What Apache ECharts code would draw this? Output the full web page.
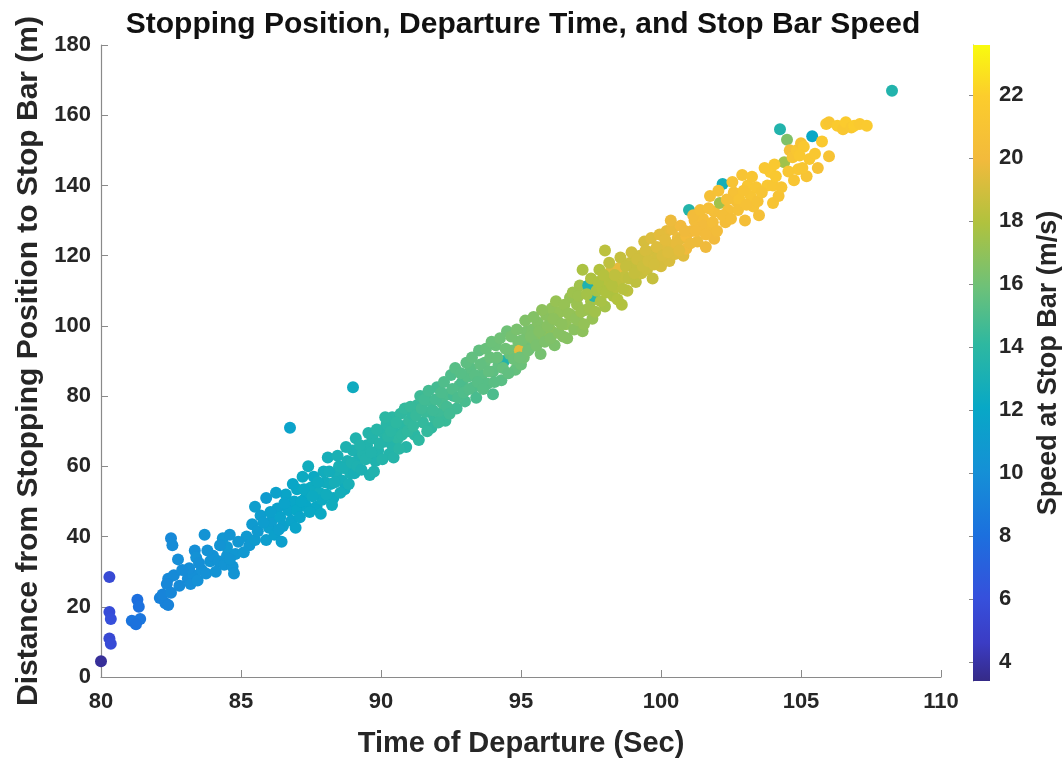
<!DOCTYPE html>
<html>
<head>
<meta charset="utf-8">
<title>Stopping Position, Departure Time, and Stop Bar Speed</title>
<script src="https://cdn.jsdelivr.net/npm/echarts@6/dist/echarts.min.js"></script>
<style>
  html, body { margin: 0; padding: 0; background: #ffffff; }
  #chart { width: 1063px; height: 763px; }
</style>
</head>
<body>
<div id="chart"></div>
<script>
// Departure time (s), distance from stopping position to stop bar (m), speed at stop bar (m/s)
const departTime = [
  80.0, 80.3, 80.3, 80.35, 80.3, 80.35,
  81.3, 81.35, 81.1, 81.4, 81.25,
  82.1, 82.3, 82.2, 82.4, 82.5, 82.55, 82.4, 82.6, 82.75, 82.35,
  83.1, 83.3, 83.2, 83.45, 83.35, 83.4, 83.7, 83.6, 83.9,
  84.0, 84.2, 84.4, 84.5, 84.35, 84.6, 84.7, 84.8, 84.5,
  85.2, 85.4, 85.3, 85.5, 85.7, 85.9, 85.9, 86.0, 86.1, 86.3, 86.2, 86.4, 86.5, 86.6, 86.7, 86.75, 86.8, 86.9,
  87.0, 87.0, 87.1, 87.2, 87.3, 87.35, 87.5, 87.6, 87.7, 87.8, 87.9,
  88.0, 88.1, 88.2, 88.3, 88.4, 88.5, 88.6, 88.7, 88.8, 88.9,
  89.0, 89.0, 89.05, 89.1, 89.2, 89.35, 89.6, 89.5, 89.7, 89.8, 89.9,
  90.0, 90.1, 90.2, 90.3, 90.4, 90.4, 90.5, 90.6, 90.7, 90.8, 90.9,
  91.0, 91.1, 91.2, 91.3, 91.4, 91.5, 91.6, 91.75, 91.8, 91.9,
  92.0, 92.1, 92.2, 92.3, 92.4, 92.5, 92.6, 92.7, 92.8, 92.9, 93.0,
  93.1, 93.2, 93.3, 93.4, 93.5, 93.6, 93.7, 93.8, 93.9,
  94.0, 94.0, 94.1, 94.2, 94.3, 94.4, 94.5, 94.6, 94.7, 94.8, 94.9, 94.96, 95.0,
  95.1, 95.2, 95.2, 95.3, 95.4, 95.5, 95.6, 95.7, 95.8, 95.9,
  96.0, 96.1, 96.1, 96.2, 96.3, 96.4, 96.5, 96.6, 96.75, 96.8, 96.9, 97.0, 97.05,
  97.1, 97.2, 97.2, 97.3, 97.4, 97.5, 97.55, 97.6, 97.7, 97.8, 97.9,
  98.0, 98.0, 98.1, 98.2, 98.3, 98.4, 98.5, 98.5, 98.6, 98.7, 98.8, 98.9, 99.0, 99.1,
  99.25, 99.3, 99.4, 99.5, 99.6, 99.7, 99.8, 99.9,
  100.0, 100.1, 100.2, 100.3, 100.4, 100.4, 100.5, 100.6, 100.7, 100.7, 100.8, 100.9, 100.9, 101.0,
  101.1, 101.2, 101.3, 101.5, 101.5, 101.6, 101.75, 101.75, 101.9, 101.9,
  102.1, 102.2, 102.3, 102.4, 102.6, 102.7, 102.8, 102.9,
  103.0, 103.1, 103.2, 103.3, 103.4, 103.5, 103.8, 103.9,
  104.0, 104.0, 104.1, 104.2, 104.25, 104.4, 104.5, 104.6, 104.7, 104.85, 104.9,
  105.0, 105.1, 105.2, 105.3, 105.4, 105.6, 106.0, 105.9, 106.0, 106.3, 106.5, 106.6, 106.8, 106.9,
  107.1, 107.35, 108.25,
  83.15, 83.5, 83.75, 83.8, 84.1, 84.25, 84.6, 84.9, 84.75, 82.9, 82.5, 82.8,
  85.1, 85.6, 85.8, 85.5, 86.05, 86.35, 86.55, 86.25, 86.45,
  86.85, 86.95, 87.15, 87.25, 87.45, 87.55, 87.75, 87.85, 87.95, 87.4,
  88.05, 88.15, 88.25, 88.35, 88.45, 88.55, 88.65, 88.75, 88.85, 88.95,
  89.15, 89.25, 89.3, 89.45, 89.55, 89.65, 89.75, 89.85, 89.95,
  90.05, 90.15, 90.25, 90.35, 90.45, 90.55, 90.65, 90.75, 90.85, 90.95,
  91.05, 91.15, 91.25, 91.35, 91.45, 91.55, 91.65, 91.7, 91.85, 91.95,
  92.05, 92.15, 92.25, 92.35, 92.45, 92.55, 92.65, 92.75, 92.85, 92.95,
  93.05, 93.15, 93.25, 93.35, 93.45, 93.55, 93.65, 93.75, 93.85, 93.95,
  94.05, 94.15, 94.25, 94.35, 94.45, 94.55, 94.65, 94.75, 94.85, 94.95,
  95.05, 95.15, 95.25, 95.35, 95.45, 95.55, 95.65, 95.75, 95.85, 95.95,
  96.05, 96.15, 96.25, 96.35, 96.45, 96.55, 96.65, 96.7, 96.85, 96.95,
  97.05, 97.15, 97.25, 97.35, 97.45, 97.5, 97.65, 97.75, 97.85, 97.95,
  98.05, 98.15, 98.25, 98.35, 98.45, 98.55, 98.65, 98.75, 98.85, 98.95,
  99.05, 99.15, 99.35, 99.45, 99.55, 99.65, 99.75, 99.85, 99.95, 100.05,
  100.15, 100.25, 100.35, 100.55, 100.65, 100.85, 101.05, 101.15, 101.25, 101.4,
  101.6, 101.7, 101.85, 102.0, 102.05, 102.2, 102.35, 102.5, 102.55, 102.75,
  102.95, 103.05, 103.25, 103.45, 103.6, 103.7, 104.05, 104.3, 104.55, 104.75,
  104.95, 105.05, 105.5, 105.75
];
const stopDistance = [
  4.5, 28.5, 18.5, 16.5, 11.0, 9.5,
  22.0, 20.0, 16.0, 16.5, 15.0,
  22.5, 21.0, 23.5, 20.5, 39.5, 37.5, 28.0, 29.0, 33.5, 26.5,
  28.0, 29.0, 26.5, 27.5, 36.0, 34.0, 40.5, 30.5, 33.0,
  34.5, 33.0, 32.0, 34.5, 39.5, 40.5, 31.5, 35.0, 37.0,
  40.0, 43.5, 37.5, 39.0, 46.0, 51.0, 39.0, 42.5, 44.5, 48.0, 40.5, 45.5, 43.0, 52.0, 47.5, 71.0, 44.5, 50.0,
  47.5, 53.5, 45.5, 57.0, 51.0, 48.5, 54.0, 57.0, 48.5, 52.5, 50.5,
  55.5, 62.5, 55.0, 51.0, 58.0, 60.0, 56.0, 53.5, 61.5, 58.0,
  82.5, 64.5, 58.0, 68.0, 62.0, 63.5, 57.5, 66.0, 68.0, 61.5, 64.5,
  70.0, 67.0, 72.0, 63.5, 74.0, 66.0, 69.5, 68.0, 75.0, 71.5, 65.5,
  73.0, 75.0, 69.0, 77.5, 80.0, 72.5, 75.5, 78.5, 71.0, 74.0,
  82.5, 75.0, 78.0, 73.0, 80.5, 86.0, 80.0, 76.5, 83.0, 84.0, 78.5,
  85.5, 88.0, 82.5, 79.5, 93.0, 86.0, 89.5, 83.5, 91.0,
  80.5, 87.0, 94.5, 89.0, 84.5, 90.0, 98.5, 92.0, 93.0, 87.5, 95.5, 93.0, 89.0,
  91.0, 98.5, 95.5, 93.5, 99.0, 96.0, 101.0, 92.0, 97.5, 103.0,
  99.5, 98.5, 105.0, 94.5, 101.5, 104.0, 97.0, 100.5, 108.0, 103.0, 99.0, 106.0, 101.5,
  111.5, 98.5, 116.0, 104.5, 111.5, 107.0, 102.0, 108.5, 110.0, 116.0, 110.7,
  121.5, 105.5, 113.0, 115.5, 108.5, 111.0, 112.5, 116.5, 106.0, 114.0, 110.0, 118.0, 117.0, 112.5,
  120.0, 115.0, 124.0, 116.0, 121.0, 113.5, 119.0, 120.0,
  117.0, 122.5, 127.0, 118.5, 123.0, 127.5, 120.5, 125.0, 128.5, 124.8, 120.0, 122.0, 125.5, 133.0,
  127.0, 130.0, 124.0, 130.5, 128.5, 122.5, 137.0, 126.8, 132.5, 124.8,
  135.0, 140.4, 129.5, 133.0, 138.0, 135.5, 136.0, 143.0,
  130.0, 140.0, 137.0, 134.0, 139.5, 131.5, 140.0, 143.8,
  135.0, 140.0, 142.6, 137.0, 156.0, 146.6, 153.0, 150.0, 148.0, 150.0, 144.6,
  152.0, 151.0, 142.6, 147.5, 154.0, 145.0, 148.3, 157.5, 158.0, 157.0, 156.0, 158.0, 156.5, 157.0,
  157.5, 157.0, 167.0,
  31.0, 32.5, 29.5, 36.0, 30.0, 37.5, 33.5, 38.5, 29.5, 30.5, 24.0, 26.0,
  35.5, 41.5, 44.0, 48.5, 47.0, 42.0, 49.5, 52.5, 38.5,
  55.0, 42.5, 50.0, 53.5, 47.0, 51.5, 55.5, 46.5, 58.5, 60.0,
  52.0, 58.5, 49.0, 55.5, 63.0, 52.5, 59.5, 65.5, 55.0, 61.0,
  60.0, 66.0, 59.0, 62.0, 69.5, 64.0, 58.5, 70.5, 66.5,
  62.0, 74.0, 68.5, 70.0, 62.5, 72.5, 65.0, 69.0, 76.5, 70.0,
  77.0, 71.5, 74.5, 67.5, 76.5, 79.0, 70.0, 81.5, 76.0, 79.0,
  72.5, 81.0, 84.0, 77.0, 75.0, 82.0, 88.0, 79.5, 86.5, 81.0,
  89.5, 82.0, 91.0, 86.0, 84.0, 89.0, 82.0, 93.5, 87.0, 95.5,
  84.0, 91.0, 96.5, 88.0, 93.5, 86.5, 97.0, 90.5, 99.0, 91.0,
  96.0, 101.5, 93.0, 97.0, 102.5, 94.5, 98.5, 104.5, 95.5, 100.0,
  96.5, 102.0, 107.0, 98.0, 100.5, 106.0, 96.5, 103.5, 109.5, 102.0,
  108.5, 104.0, 100.5, 109.0, 105.0, 113.5, 104.0, 112.5, 107.0, 114.5,
  109.5, 118.0, 111.5, 114.5, 107.5, 119.5, 110.5, 117.0, 113.5, 121.0,
  115.0, 119.0, 117.0, 121.5, 118.5, 125.0, 117.5, 122.5, 126.0, 120.0,
  124.5, 121.0, 130.0, 123.5, 121.5, 127.0, 123.5, 131.5, 127.0, 133.0,
  126.0, 133.5, 129.5, 127.0, 138.5, 131.5, 136.0, 130.5, 141.0, 133.0,
  138.5, 134.5, 142.5, 135.5, 138.0, 145.0, 146.0, 139.5, 144.0, 141.5,
  148.5, 145.0, 149.0, 152.5
];
const barSpeed = [
  3.8, 5.6, 5.8, 6.0, 5.5, 5.7,
  8.0, 8.1, 8.3, 8.4, 8.2,
  9.1, 9.2, 9.3, 9.2, 9.6, 9.8, 9.6, 9.7, 9.9, 9.5,
  9.8, 10.0, 9.9, 10.1, 10.0, 10.2, 10.3, 10.1, 10.3,
  10.2, 10.3, 10.4, 10.5, 10.6, 10.5, 10.4, 10.6, 10.7,
  10.8, 10.9, 10.7, 11.0, 11.1, 11.0, 11.2, 11.3, 11.2, 11.5, 11.4, 11.6, 11.4, 11.8, 11.7, 11.6, 11.6, 11.9,
  12.0, 12.1, 11.8, 12.3, 12.1, 12.0, 12.4, 12.2, 12.1, 12.5, 12.3,
  12.6, 12.8, 12.5, 12.4, 12.9, 13.0, 12.8, 12.6, 13.1, 13.0,
  12.4, 13.2, 12.9, 13.3, 13.1, 13.4, 13.2, 13.5, 13.6, 13.3, 13.5,
  13.8, 13.7, 13.9, 13.6, 14.0, 13.7, 13.9, 14.1, 14.2, 14.0, 13.8,
  14.3, 14.2, 14.0, 14.4, 14.6, 14.3, 14.5, 14.7, 14.2, 14.4,
  14.8, 14.6, 14.9, 14.5, 15.0, 15.1, 14.8, 14.7, 15.2, 15.0, 14.9,
  15.3, 15.4, 15.1, 14.9, 15.6, 15.4, 15.7, 15.3, 15.8,
  15.0, 15.5, 15.9, 15.6, 15.4, 13.5, 16.0, 15.8, 16.1, 15.7, 16.2, 19.5, 15.9,
  16.1, 16.3, 16.2, 16.0, 16.4, 16.5, 16.6, 16.2, 16.7, 16.8,
  16.6, 16.9, 17.0, 16.4, 16.8, 17.1, 16.7, 17.0, 17.2, 17.1, 16.8, 17.3, 17.0,
  17.5, 16.9, 17.8, 17.4, 13.2, 17.6, 17.2, 13.8, 17.7, 18.0, 17.9,
  18.3, 17.6, 18.1, 19.2, 17.9, 18.2, 18.4, 19.6, 18.0, 18.5, 18.3, 18.7, 18.6, 18.4,
  18.9, 18.7, 19.1, 18.8, 19.0, 18.6, 19.2, 19.0,
  19.1, 19.4, 19.6, 19.2, 19.5, 19.7, 19.3, 19.8, 20.0, 19.6, 19.4, 19.9, 20.1, 13.6,
  20.0, 20.2, 19.8, 20.3, 20.1, 19.9, 20.6, 20.2, 20.4, 20.0,
  17.5, 12.8, 20.3, 20.5, 20.7, 20.6, 20.9, 21.0,
  20.4, 21.2, 21.0, 20.8, 21.1, 20.6, 21.3, 21.5,
  21.0, 21.2, 21.4, 20.9, 13.4, 17.5, 16.5, 20.5, 21.0, 21.2, 21.3,
  20.8, 21.4, 21.0, 21.3, 12.0, 20.7, 20.9, 21.5, 21.2, 21.6, 21.3, 21.7, 21.4, 21.8,
  21.5, 21.6, 13.4,
  9.9, 10.0, 10.1, 10.2, 10.3, 10.4, 10.5, 10.6, 10.4, 9.8, 9.5, 9.7,
  10.7, 10.9, 11.1, 11.2, 11.4, 11.3, 11.6, 11.5, 11.3,
  11.9, 11.7, 12.0, 12.2, 12.1, 12.3, 12.4, 12.2, 12.6, 12.5,
  12.5, 12.7, 12.5, 12.8, 13.0, 12.7, 13.0, 13.2, 12.9, 13.2,
  13.2, 13.4, 13.1, 13.4, 13.6, 13.5, 13.3, 13.8, 13.7,
  13.6, 14.0, 13.9, 14.0, 13.7, 14.1, 13.9, 14.1, 14.3, 14.2,
  14.4, 14.3, 14.4, 14.1, 14.6, 14.7, 14.3, 14.8, 14.6, 14.8,
  14.5, 15.0, 15.1, 14.8, 14.7, 15.1, 15.3, 15.0, 15.3, 15.1,
  15.5, 15.2, 15.6, 15.4, 15.3, 15.6, 15.3, 15.8, 15.6, 15.9,
  15.4, 15.8, 16.0, 15.7, 16.0, 15.6, 16.2, 15.9, 16.3, 16.0,
  16.2, 16.5, 16.1, 16.4, 16.6, 16.3, 16.6, 16.9, 16.4, 16.7,
  16.5, 16.9, 17.2, 16.7, 16.9, 17.2, 16.7, 17.1, 17.4, 17.0,
  17.4, 17.3, 17.1, 17.6, 17.4, 17.9, 17.5, 17.9, 17.7, 18.1,
  17.9, 18.4, 18.1, 18.4, 18.0, 18.6, 18.2, 18.6, 18.4, 18.9,
  18.6, 18.9, 18.8, 19.1, 19.0, 19.3, 19.0, 19.3, 19.5, 19.2,
  19.5, 19.3, 19.8, 19.6, 19.5, 19.9, 19.8, 20.2, 20.1, 20.4,
  20.1, 20.5, 20.3, 20.2, 20.7, 20.4, 20.6, 20.4, 20.9, 20.6,
  20.9, 20.7, 21.1, 20.8, 21.0, 21.3, 21.4, 21.1, 21.2, 21.1,
  21.4, 21.2, 21.3, 21.5
];

// Axis ranges and tick values
const timeTicks = [80, 85, 90, 95, 100, 105, 110];
const distanceTicks = [0, 20, 40, 60, 80, 100, 120, 140, 160, 180];
const speedRange = [3.4, 23.6];
const speedTicks = [4, 6, 8, 10, 12, 14, 16, 18, 20, 22];

// Parula-style colour map: stop offsets and colours
const cmapOffsets = [0.00, 0.06, 0.13, 0.23, 0.33, 0.43, 0.53, 0.62, 0.72, 0.82, 0.92, 1.00];
const cmapColors = ['#352a87', '#3b3cc4', '#3650dc', '#1c70de', '#1590d6', '#08a8c6',
                    '#2eb8a0', '#6ec178', '#b0c23e', '#f2ba3c', '#fccd2c', '#f9fb0e'];

const points = departTime.map((t, i) => [t, stopDistance[i], barSpeed[i]]);

// Piecewise visual map so the scatter colours follow the same uneven stops as the colour bar
const span = speedRange[1] - speedRange[0];
const pieces = [];
const STEPS = 200;
function cmapAt(f) {
  let k = 0;
  while (k < cmapOffsets.length - 2 && f > cmapOffsets[k + 1]) k++;
  const a = cmapOffsets[k], b = cmapOffsets[k + 1];
  const u = Math.min(1, Math.max(0, (f - a) / (b - a)));
  const c0 = echarts.color.parse(cmapColors[k]);
  const c1 = echarts.color.parse(cmapColors[k + 1]);
  const mix = c0.slice(0, 3).map((v, j) => Math.round(v + (c1[j] - v) * u));
  return 'rgb(' + mix.join(',') + ')';
}
for (let i = 0; i < STEPS; i++) {
  pieces.push({
    gte: (i === 0 ? speedRange[0] - 1 : speedRange[0] + span * i / STEPS),
    lt: i === STEPS - 1 ? speedRange[1] + 1 : speedRange[0] + span * (i + 1) / STEPS,
    color: cmapAt((i + 0.5) / STEPS)
  });
}

const FONT = 'Liberation Sans, Arial, Helvetica, sans-serif';
const TEXT = '#262626';
const AXIS = '#8a8a8a';

const chart = echarts.init(document.getElementById('chart'), null, { renderer: 'canvas' });

chart.setOption({
  backgroundColor: '#ffffff',
  animation: false,
  textStyle: { fontFamily: FONT },
  title: {
    text: 'Stopping Position, Departure Time, and Stop Bar Speed',
    left: 523,
    top: 10,
    padding: 0,
    textAlign: 'center',
    textStyle: { fontFamily: FONT, fontWeight: 'bold', fontSize: 30, color: '#111111' }
  },
  grid: [
    { left: 101, right: 122, top: 45, bottom: 82, containLabel: false },
    { left: 973, width: 18, top: 45, bottom: 82, containLabel: false }
  ],
  xAxis: [
    {
      gridIndex: 0, type: 'value',
      min: timeTicks[0], max: timeTicks[timeTicks.length - 1], interval: 5,
      name: 'Time of Departure (Sec)', nameLocation: 'middle', nameGap: 52,
      nameTextStyle: { fontFamily: FONT, fontWeight: 'bold', fontSize: 29, color: TEXT },
      axisLine: { show: true, lineStyle: { color: AXIS, width: 1.2 } },
      axisTick: { show: true, inside: true, length: 7, lineStyle: { color: AXIS } },
      axisLabel: { fontFamily: FONT, fontWeight: 'bold', fontSize: 22, color: TEXT, margin: 14 },
      splitLine: { show: false }
    },
    {
      gridIndex: 1, type: 'value', min: 0, max: 1, show: false
    }
  ],
  yAxis: [
    {
      gridIndex: 0, type: 'value',
      min: distanceTicks[0], max: distanceTicks[distanceTicks.length - 1], interval: 20,
      name: 'Distance from Stopping Position to Stop Bar (m)', nameLocation: 'middle', nameGap: 56,
      nameTextStyle: { fontFamily: FONT, fontWeight: 'bold', fontSize: 30, color: TEXT },
      axisLine: { show: true, lineStyle: { color: AXIS, width: 1.2 } },
      axisTick: { show: true, inside: true, length: 7, lineStyle: { color: AXIS } },
      axisLabel: { fontFamily: FONT, fontWeight: 'bold', fontSize: 22, color: TEXT, margin: 10 },
      splitLine: { show: false }
    },
    {
      gridIndex: 1, type: 'value', position: 'right',
      min: speedRange[0], max: speedRange[1],
      name: 'Speed at Stop Bar (m/s)', nameLocation: 'middle', nameGap: 45, nameRotate: 90,
      nameTextStyle: { fontFamily: FONT, fontWeight: 'bold', fontSize: 27, color: TEXT },
      axisLine: { show: true, lineStyle: { color: AXIS, width: 1 } },
      axisTick: { show: true, inside: true, length: 4, customValues: speedTicks, lineStyle: { color: AXIS } },
      axisLabel: { fontFamily: FONT, fontWeight: 'bold', fontSize: 22, color: TEXT, margin: 9, customValues: speedTicks },
      splitLine: { show: false }
    }
  ],
  visualMap: {
    type: 'piecewise',
    show: false,
    seriesIndex: 0,
    dimension: 2,
    pieces: pieces
  },
  series: [
    {
      type: 'scatter',
      xAxisIndex: 0, yAxisIndex: 0,
      symbol: 'circle',
      symbolSize: 12,
      data: points,
      itemStyle: { opacity: 1 }
    },
    {
      // colour bar: a gradient strip spanning the speed range on the right-hand axis
      type: 'custom',
      xAxisIndex: 1, yAxisIndex: 1,
      silent: true,
      data: [[0, speedRange[0], speedRange[1]]],
      renderItem: function (params, api) {
        const p0 = api.coord([0, api.value(1)]);
        const p1 = api.coord([1, api.value(2)]);
        const stops = cmapColors.map((c, i) => ({ offset: cmapOffsets[i], color: c }));
        return {
          type: 'rect',
          shape: { x: p0[0], y: p1[1], width: p1[0] - p0[0], height: p0[1] - p1[1] },
          style: { fill: new echarts.graphic.LinearGradient(0, 1, 0, 0, stops) }
        };
      }
    }
  ]
});
</script>
</body>
</html>
